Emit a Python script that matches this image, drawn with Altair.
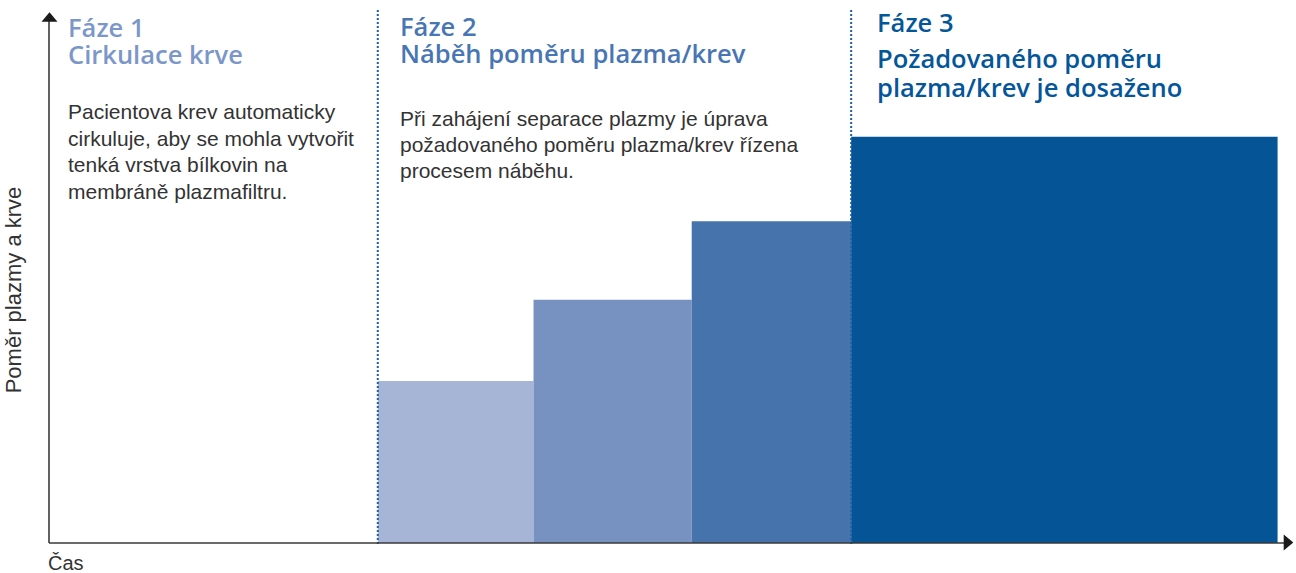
import altair as alt
import pandas as pd

# ---- data ----
bar_start = [26.6, 39.2, 52.0, 64.9]
bar_end = [39.2, 52.0, 64.9, 99.4]
bar_ratio = [30.5, 45.8, 60.6, 76.5]
bar_colors = ["#a6b5d6", "#7792c0", "#4773ad", "#045496"]
phase_bounds = [26.6, 64.9]

heading_lines = ["Fáze 1", "Cirkulace krve",
                 "Fáze 2", "Náběh poměru plazma/krev",
                 "Fáze 3", "Požadovaného poměru", "plazma/krev je dosaženo"]
heading_colors = ["#7b97c9", "#7b97c9",
                  "#4876b4", "#4876b4",
                  "#04569a", "#04569a", "#04569a"]
body_texts = [
    ["Pacientova krev automaticky", "cirkuluje, aby se mohla vytvořit",
     "tenká vrstva bílkovin na", "membráně plazmafiltru."],
    ["Při zahájení separace plazmy je úprava",
     "požadovaného poměru plazma/krev řízena", "procesem náběhu."],
]
x_label = "Čas"
y_label = "Poměr plazmy a krve"

W, H = 1236, 531
xs = alt.Scale(domain=[0, 100])
ys = alt.Scale(domain=[0, 100])

bars_df = pd.DataFrame({"x": bar_start, "x2": bar_end, "y": bar_ratio, "c": bar_colors})
bars = alt.Chart(bars_df).mark_rect().encode(
    x=alt.X("x:Q", scale=xs, axis=None),
    x2="x2",
    y=alt.Y("y:Q", scale=ys, axis=None),
    y2=alt.datum(0),
    color=alt.Color("c:N", scale=None),
)

bounds = alt.Chart(pd.DataFrame({"x": phase_bounds})).mark_rule(
    color="#1d5fa8", strokeWidth=2, strokeDash=[2, 2]
).encode(
    x=alt.X("x:Q", scale=xs, axis=None),
    y=alt.value(-2),
    y2=alt.value(H + 1),
)

axis_color = "#3a3a3a"
yaxis = alt.Chart(pd.DataFrame({"a": [0]})).mark_rule(color=axis_color, strokeWidth=1.6).encode(
    x=alt.value(0), y=alt.value(8), y2=alt.value(H)
)
xaxis = alt.Chart(pd.DataFrame({"a": [0]})).mark_rule(color=axis_color, strokeWidth=1.6).encode(
    x=alt.value(0), x2=alt.value(W - 1), y=alt.value(H)
)
tri = "M0,-0.6L1,0.6L-1,0.6Z"
yarrow = alt.Chart(pd.DataFrame({"a": [0]})).mark_point(
    shape=tri, filled=True, color="#1a1a1a", size=256, opacity=1
).encode(x=alt.value(0.5), y=alt.value(5))
xarrow = alt.Chart(pd.DataFrame({"a": [0]})).mark_point(
    shape=tri, filled=True, color="#1a1a1a", size=256, angle=90, opacity=1
).encode(x=alt.value(W + 3.5), y=alt.value(H - 0.5))


def txt(lines, x, y, size, color, weight="normal", lh=26.5, font="Liberation Sans"):
    return alt.Chart(pd.DataFrame({"t": ["\n".join(lines)]})).mark_text(
        align="left", baseline="alphabetic", font=font,
        fontSize=size, fontWeight=weight, color=color, lineBreak="\n", lineHeight=lh,
    ).encode(x=alt.value(x), y=alt.value(y), text="t:N")


HF = "Open Sans"
HS = 25.5
head_pos = [(19, 25), (19, 52), (351, 24), (351, 51), (828, 20), (828, 56), (828, 84.7)]
texts = [
    txt([heading_lines[i]], px, py, HS, heading_colors[i], 600, 27, HF)
    for i, (px, py) in enumerate(head_pos)
]
texts += [
    txt(body_texts[0], 19, 107, 21, "#333333", "normal", 26.5),
    txt(body_texts[1], 351, 114, 21, "#333333", "normal", 25.8),
]

xlab = alt.Chart(pd.DataFrame({"t": [x_label]})).mark_text(
    align="left", baseline="alphabetic", font="Liberation Sans", fontSize=20, color="#333333"
).encode(x=alt.value(-1), y=alt.value(558), text="t:N")
ylab = alt.Chart(pd.DataFrame({"t": [y_label]})).mark_text(
    align="center", baseline="alphabetic", font="Liberation Sans", fontSize=22,
    color="#333333", angle=270
).encode(x=alt.value(-28), y=alt.value(278), text="t:N")

chart = alt.layer(bars, bounds, yaxis, xaxis, yarrow, xarrow, *texts, xlab, ylab).properties(
    width=W, height=H,
    autosize=alt.AutoSizeParams(type="none"),
    padding={"left": 49, "top": 12, "right": 11, "bottom": 30},
).configure_view(stroke=None)

chart.save("out.html", embed_options={"renderer": "svg", "actions": False})
